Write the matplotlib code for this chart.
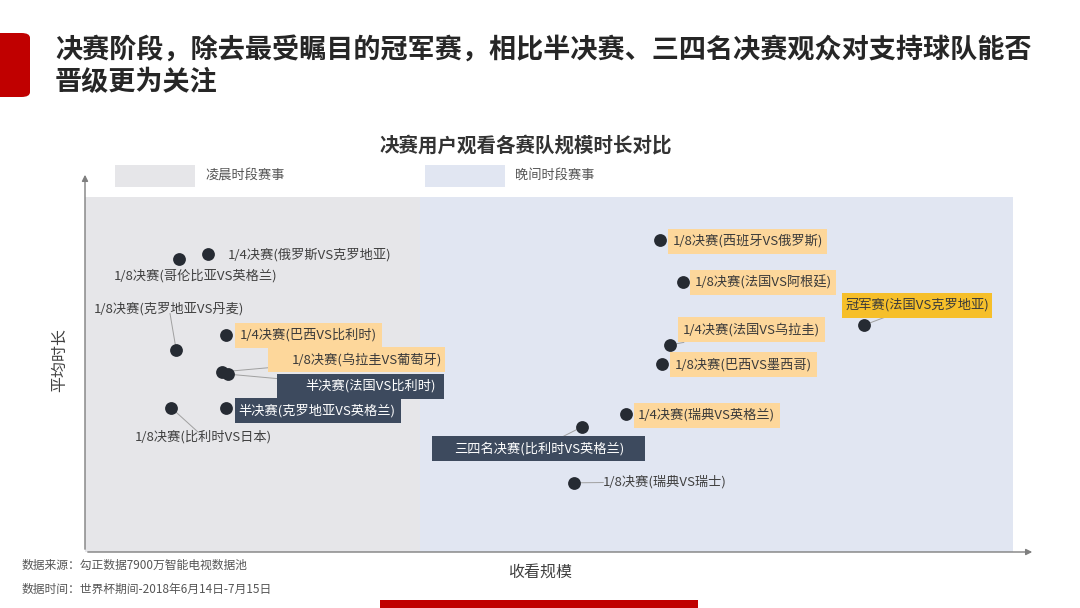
import matplotlib

matplotlib.use("Agg")
import matplotlib.pyplot as plt
from matplotlib.lines import Line2D
from matplotlib.patches import FancyBboxPatch, Rectangle

plt.rcParams["font.family"] = ["Noto Sans CJK SC", "DejaVu Sans"]

# match labels, x = viewing scale, y = average duration (relative units 0-100)
MATCHES = [
    "1/4决赛(俄罗斯VS克罗地亚)",
    "1/8决赛(哥伦比亚VS英格兰)",
    "1/8决赛(克罗地亚VS丹麦)",
    "1/4决赛(巴西VS比利时)",
    "1/8决赛(乌拉圭VS葡萄牙)",
    "半决赛(法国VS比利时)",
    "1/8决赛(比利时VS日本)",
    "半决赛(克罗地亚VS英格兰)",
    "1/8决赛(西班牙VS俄罗斯)",
    "1/8决赛(法国VS阿根廷)",
    "冠军赛(法国VS克罗地亚)",
    "1/4决赛(法国VS乌拉圭)",
    "1/8决赛(巴西VS墨西哥)",
    "1/4决赛(瑞典VS英格兰)",
    "三四名决赛(比利时VS英格兰)",
    "1/8决赛(瑞典VS瑞士)",
]
SCALE = [12.9, 9.9, 9.6, 14.8, 14.4, 15.1, 9.1, 14.8,
         60.5, 62.9, 82.0, 61.6, 60.7, 56.9, 52.3, 51.5]
DURATION = [78.4, 77.1, 53.2, 57.1, 47.4, 46.8, 37.9, 37.9,
            82.1, 71.1, 59.7, 54.5, 49.5, 36.3, 32.9, 18.2]

# time slot bands on the x axis
SLOT_NAMES = ["凌晨时段赛事", "晚间时段赛事"]
SLOT_EDGES = [(0, 35.3), (35.3, 97.7)]

# label style per match: kind, (dx, dy) pixel offset, ha, connector, box pad (left, right)
LABEL_STYLE = [
    ("plain", (20, -1), "left", False, None),
    ("plain", (17, -17), "center", False, None),
    ("plain", (-7, 41), "center", True, None),
    ("orange", (14, 0), "left", False, (5, 5)),
    ("orange", (145, 12), "center", True, (24, 3)),
    ("dark", (142, -12), "center", True, (28, 8)),
    ("plain", (32, -29), "center", True, None),
    ("dark", (13, -3), "left", False, (4, 5)),
    ("orange", (13, -1), "left", False, (5, 4)),
    ("orange", (12, -1), "left", False, (5, 4)),
    ("gold", (53, 20), "center", True, (3, 3)),
    ("orange", (13, 15), "left", True, (5, 5)),
    ("orange", (13, -1), "left", False, (5, 5)),
    ("orange", (12, -1), "left", False, (4, 5)),
    ("dark", (-43, -22), "center", True, (22, 21)),
    ("plain", (29, 1), "left", True, None),
]

SLOT_COLORS = ["#e6e6e9", "#e1e6f2"]
BOX = {
    "plain": (None, "#404040"),
    "orange": ("#fdd79b", "#3a3a3a"),
    "gold": ("#f6bf2a", "#3a3a3a"),
    "dark": ("#3d4a5e", "white"),
}

W, H = 1080, 608
fig = plt.figure(figsize=(W / 100, H / 100), dpi=100)
fig.patch.set_facecolor("white")


def fx(px):
    return px / W


def fy(py):
    return 1 - py / H


# red accents
fig.patches.append(FancyBboxPatch((fx(-10), fy(97)), fx(40), 64 / H,
                                  boxstyle="round,pad=0,rounding_size=0.008",
                                  transform=fig.transFigure, facecolor="#c00000",
                                  edgecolor="none"))
fig.patches.append(Rectangle((fx(380), 0), fx(318), 8 / H, transform=fig.transFigure,
                             facecolor="#c00000", edgecolor="none"))

fig.text(fx(55), fy(50), "决赛阶段，除去最受瞩目的冠军赛，相比半决赛、三四名决赛观众对支持球队能否",
         fontsize=19.5, fontweight="bold", color="#262626", va="center", ha="left")
fig.text(fx(55), fy(82), "晋级更为关注",
         fontsize=19.5, fontweight="bold", color="#262626", va="center", ha="left")

fig.text(fx(526), fy(145), "决赛用户观看各赛队规模时长对比", fontsize=14, fontweight="bold",
         color="#333333", ha="center", va="center")

# legend for time slots
for (px0, name), col in zip([(115, SLOT_NAMES[0]), (425, SLOT_NAMES[1])], SLOT_COLORS):
    fig.patches.append(Rectangle((fx(px0), fy(187)), fx(80), 22 / H,
                                 transform=fig.transFigure, facecolor=col, edgecolor="none"))
    fig.text(fx(px0 + 90), fy(175), name, fontsize=9.5, color="#555555",
             ha="left", va="center")

# axes: x 85..1035 px, y 552..172 px
ax = fig.add_axes([fx(85), fy(552), fx(950), 380 / H])
ax.set_xlim(0, 100)
ax.set_ylim(0, 100)
for s in ax.spines.values():
    s.set_visible(False)
ax.set_xticks([])
ax.set_yticks([])
ax.patch.set_alpha(0)

band_top = (552 - 197) / 380
for (x0, x1), col in zip(SLOT_EDGES, SLOT_COLORS):
    ax.axvspan(x0, x1, ymin=0, ymax=band_top, color=col, lw=0, zorder=0)

arrow = dict(arrowstyle="-|>", color="#7f7f7f", lw=1.0, mutation_scale=9)
ax.annotate("", xy=(0, 1.0), xytext=(0, 0), xycoords="axes fraction", arrowprops=arrow)
ax.annotate("", xy=(1.0, 0), xytext=(0, 0), xycoords="axes fraction", arrowprops=arrow)

ax.scatter(SCALE, DURATION, s=85, color="#262b33", zorder=5, linewidths=0)

labels = []
for name, x, y, (kind, off, ha, conn, pad) in zip(MATCHES, SCALE, DURATION, LABEL_STYLE):
    face, color = BOX[kind]
    t = ax.annotate(name, xy=(x, y), xytext=off, textcoords="offset pixels",
                    ha=ha, va="center", fontsize=9.5, color=color, zorder=7)
    labels.append((t, x, y, face, pad, conn))

# label boxes and leader lines, sized from the rendered text
fig.canvas.draw()
renderer = fig.canvas.get_renderer()
for t, x, y, face, pad, conn in labels:
    bb = t.get_window_extent(renderer)
    cy = (bb.y0 + bb.y1) / 2
    if face is None:
        x0, x1, y0, y1 = bb.x0, bb.x1, bb.y0 + 2, bb.y1 - 2
    else:
        x0, x1 = bb.x0 - pad[0], bb.x1 + pad[1]
        y0, y1 = cy - 12.5, cy + 12.5
        ax.add_patch(Rectangle((x0 / W, y0 / H), (x1 - x0) / W, (y1 - y0) / H,
                               transform=fig.transFigure, facecolor=face,
                               edgecolor="none", zorder=6))
    if conn:
        px, py = ax.transData.transform((x, y))
        cx, ccy = (x0 + x1) / 2, (y0 + y1) / 2
        dx, dy = px - cx, py - ccy
        s = min(((x1 - x0) / 2) / abs(dx) if dx else 1e9,
                ((y1 - y0) / 2) / abs(dy) if dy else 1e9)
        ex, ey = cx + dx * s, ccy + dy * s
        ax.add_line(Line2D([px / W, ex / W], [py / H, ey / H], transform=fig.transFigure,
                           color="#a0a0a0", lw=0.7, zorder=4))

fig.text(fx(60), fy(360), "平均时长", rotation=90, fontsize=11.5, color="#404040",
         ha="center", va="center")
fig.text(0.5, fy(572), "收看规模", fontsize=11.5, color="#404040",
         ha="center", va="center")

fig.text(fx(22), fy(565), "数据来源：勾正数据7900万智能电视数据池", fontsize=8.5,
         color="#555555", ha="left", va="center")
fig.text(fx(22), fy(589), "数据时间：世界杯期间-2018年6月14日-7月15日", fontsize=8.5,
         color="#555555", ha="left", va="center")

fig.savefig("out.png", dpi=100, facecolor="white")
